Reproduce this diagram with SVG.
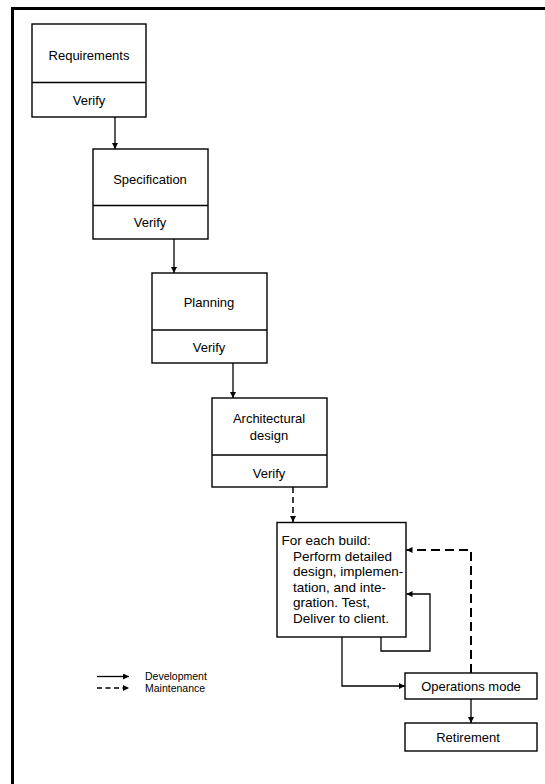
<svg xmlns="http://www.w3.org/2000/svg" width="545" height="784" viewBox="0 0 545 784">
<style>
.box{fill:#fff;stroke:#000;stroke-width:1.4}
.div{stroke:#000;stroke-width:1.4}
.lbl{font-family:"Liberation Sans",Arial,sans-serif;font-size:13px;fill:#000;text-anchor:middle}
.body{font-family:"Liberation Sans",Arial,sans-serif;font-size:13.5px;fill:#000}
.leg{font-family:"Liberation Sans",Arial,sans-serif;font-size:10.5px;fill:#000}
.solid{fill:none;stroke:#000;stroke-width:1.3}
.dash{fill:none;stroke:#000;stroke-width:1.5;stroke-dasharray:6 4}
.dashB{fill:none;stroke:#000;stroke-width:2;stroke-dasharray:9 5}
</style>
<defs>
<marker id="ah" viewBox="0 0 10 10" refX="10" refY="5" markerWidth="7" markerHeight="6" markerUnits="userSpaceOnUse" orient="auto">
<path d="M0,0 L10,5 L0,10 z" fill="#000"/>
</marker>
</defs>
<rect width="545" height="784" fill="#fff"/>
<g id="frame">
<line x1="11" y1="8.5" x2="545" y2="8.5" stroke="#000" stroke-width="3"/>
<line x1="12.5" y1="7" x2="12.5" y2="784" stroke="#000" stroke-width="3"/>
</g>
<g id="connectors">
<line class="solid" x1="115" y1="117" x2="115" y2="149" marker-end="url(#ah)"/>
<line class="solid" x1="174" y1="239" x2="174" y2="273" marker-end="url(#ah)"/>
<line class="solid" x1="233" y1="363" x2="233" y2="398" marker-end="url(#ah)"/>
<line class="dash" x1="293" y1="487" x2="293" y2="522" marker-end="url(#ah)"/>
<path class="solid" d="M381,637 V651 H430 V594 H406.5" marker-end="url(#ah)"/>
<path class="dashB" d="M471,673 V550 H406.5" marker-end="url(#ah)"/>
<path class="solid" d="M342,637 V686 H405" marker-end="url(#ah)"/>
<line class="solid" x1="471" y1="699" x2="471" y2="723" marker-end="url(#ah)"/>
</g>
<g id="requirements">
<rect class="box" x="32" y="24" width="114" height="93"/>
<line class="div" x1="32" y1="82.5" x2="146" y2="82.5"/>
<text class="lbl" x="89" y="60">Requirements</text>
<text class="lbl" x="89" y="104.5">Verify</text>
</g>
<g id="specification">
<rect class="box" x="93" y="149" width="115" height="90"/>
<line class="div" x1="93" y1="205.5" x2="208" y2="205.5"/>
<text class="lbl" x="150" y="183.5">Specification</text>
<text class="lbl" x="150" y="227">Verify</text>
</g>
<g id="planning">
<rect class="box" x="152" y="273" width="115" height="90"/>
<line class="div" x1="152" y1="330" x2="267" y2="330"/>
<text class="lbl" x="209" y="307">Planning</text>
<text class="lbl" x="209" y="351.5">Verify</text>
</g>
<g id="architectural">
<rect class="box" x="212" y="398" width="115" height="89"/>
<line class="div" x1="212" y1="455" x2="327" y2="455"/>
<text class="lbl" x="269" y="423">Architectural</text>
<text class="lbl" x="269" y="439.5">design</text>
<text class="lbl" x="269" y="477.5">Verify</text>
</g>
<g id="build">
<rect class="box" x="277" y="522.5" width="129" height="114.5"/>
<text class="body" x="281.5" y="545">For each build:</text>
<text class="body" x="293" y="560.5">Perform detailed</text>
<text class="body" x="293" y="576">design, implemen-</text>
<text class="body" x="293" y="591.5">tation, and inte-</text>
<text class="body" x="293" y="607">gration. Test,</text>
<text class="body" x="293" y="622.5">Deliver to client.</text>
</g>
<g id="operations">
<rect class="box" x="405" y="673" width="132" height="26"/>
<text class="lbl" x="471" y="691">Operations mode</text>
</g>
<g id="retirement">
<rect class="box" x="405" y="723" width="132" height="28"/>
<text class="lbl" x="468" y="741.5">Retirement</text>
</g>
<g id="legend">
<line class="solid" x1="97" y1="676.5" x2="129" y2="676.5" marker-end="url(#ah)"/>
<line class="solid" x1="97" y1="688" x2="129" y2="688" stroke-dasharray="5 3.5" marker-end="url(#ah)"/>
<text class="leg" x="145" y="680">Development</text>
<text class="leg" x="145" y="691.5">Maintenance</text>
</g>
</svg>
